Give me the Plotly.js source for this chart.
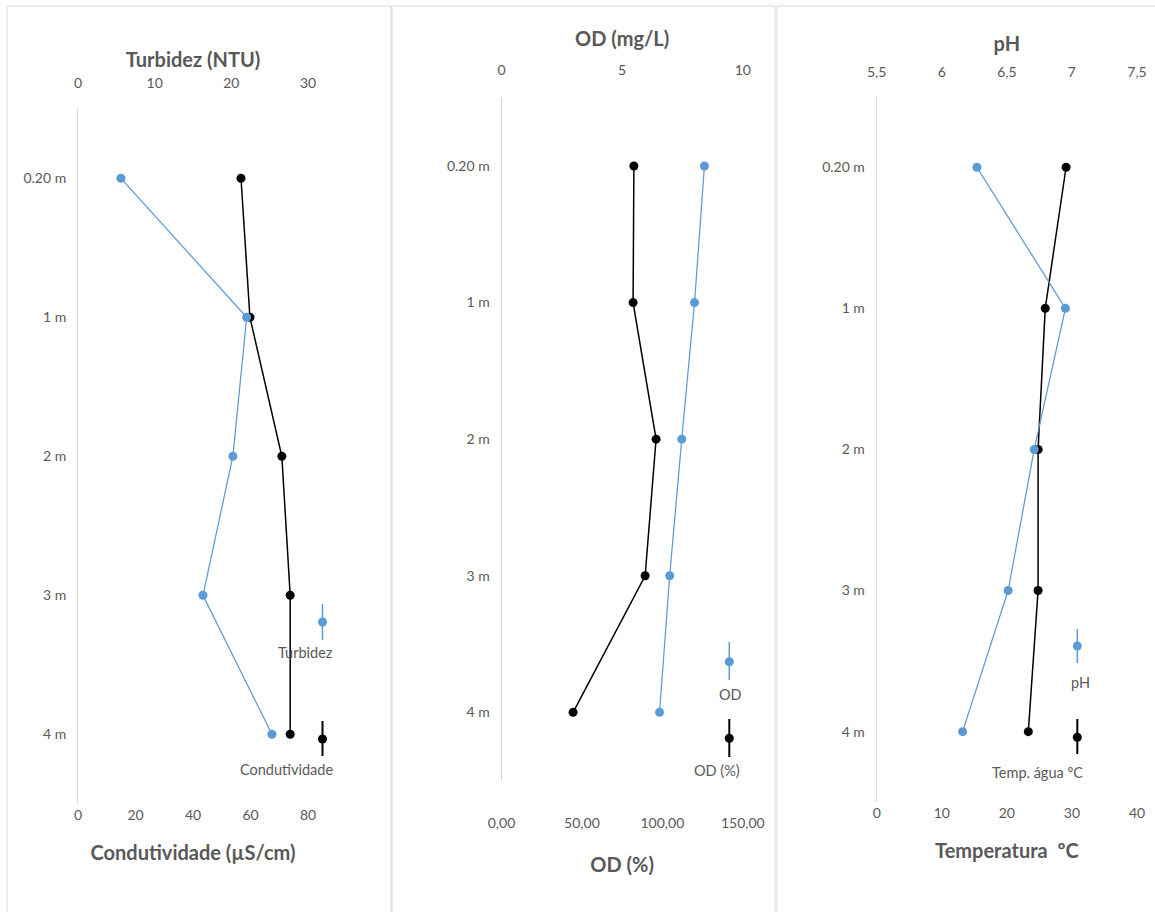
<!DOCTYPE html>
<html>
<head>
<meta charset="utf-8">
<script src="https://cdn.plot.ly/plotly-3.0.1.min.js"></script>
<style>
  html, body { margin: 0; padding: 0; background: #ffffff; }
  #chart { width: 1155px; height: 912px; }
</style>
</head>
<body>
<div id="chart"></div>
<script>
// Depth profiles of a water column: three side-by-side panels.
const depths = ["0.20 m", "1 m", "2 m", "3 m", "4 m"];

// Panel 1
const turbidez = [5.6, 22.0, 20.2, 16.3, 25.3];          // NTU (top axis)
const condutividade = [56.7, 59.8, 70.9, 73.8, 73.8];    // µS/cm (bottom axis)

// Panel 2
const odMgL = [8.41, 8.0, 7.47, 6.97, 6.55];             // mg/L (top axis)
const odPct = [82.3, 81.8, 96.1, 89.3, 44.5];            // % saturation (bottom axis)

// Panel 3
const ph = [6.27, 6.95, 6.71, 6.51, 6.16];               // pH (top axis)
const tempAgua = [29.1, 25.9, 24.8, 24.8, 23.3];         // ºC (bottom axis)

const W = 1155, H = 912;
const px = v => v / W;
const py = v => 1 - v / H;

const BLUE = "#5b9bd5";
const BLACK = "#000000";
const GREY = "#595959";
const FONT = "Lato, 'Open Sans', sans-serif";
const TICK_SIZE = 14;
const TITLE_SIZE = 20;

function series(x, xa, ya, color, name, width) {
  return {
    type: "scatter", mode: "lines+markers",
    x: x, y: depths, xaxis: xa, yaxis: ya, name: name,
    line: { color: color, width: width },
    marker: { color: color, size: 9 },
    showlegend: false,
    hovertemplate: name + ": %{x}<extra>%{y}</extra>"
  };
}

const data = [
  series(turbidez, "x2", "y", BLUE, "Turbidez", 1.25),
  series(condutividade, "x", "y", BLACK, "Condutividade", 1.5),
  series(odMgL, "x4", "y2", BLUE, "OD", 1.25),
  series(odPct, "x3", "y2", BLACK, "OD (%)", 1.5),
  series(ph, "x6", "y3", BLUE, "pH", 1.25),
  series(tempAgua, "x5", "y3", BLACK, "Temp. água ºC", 1.5)
];

// Plot-area geometry (pixels) for each panel
const panels = [
  { x0: 78,  x1: 308,  y0: 108.8, y1: 803.8 },
  { x0: 501.5, x1: 742.8, y0: 97.7,  y1: 780.6 },
  { x0: 876.7, x1: 1137, y0: 96.7,  y1: 802.2 }
];

function axisTitle(title, gap) {
  return { text: "<b>" + title + "</b>", font: { family: FONT, size: TITLE_SIZE, color: GREY }, standoff: gap };
}
function bottomAxis(p, range, dtick, title, posPx, standoff, titleGap, fmt) {
  return {
    domain: [px(p.x0), px(p.x1)], range: range, dtick: dtick, tick0: 0,
    anchor: "free", position: py(posPx), side: "bottom",
    showline: false, showgrid: false, zeroline: false, ticks: "",
    tickformat: fmt || "", ticklabelstandoff: standoff,
    tickfont: { family: FONT, size: TICK_SIZE, color: GREY },
    title: axisTitle(title, titleGap),
    fixedrange: true
  };
}
function topAxis(p, over, range, dtick, title, posPx, standoff, titleGap, fmt) {
  return {
    domain: [px(p.x0), px(p.x1)], range: range, dtick: dtick, tick0: range[0],
    overlaying: over, anchor: "free", position: py(posPx), side: "top",
    showline: false, showgrid: false, zeroline: false, ticks: "",
    tickformat: fmt || "", ticklabelstandoff: standoff,
    tickfont: { family: FONT, size: TICK_SIZE, color: GREY },
    title: axisTitle(title, titleGap),
    fixedrange: true
  };
}
function depthAxis(p, anchor) {
  return {
    domain: [py(p.y1), py(p.y0)], anchor: anchor,
    type: "category", categoryorder: "array", categoryarray: depths,
    range: [4.5, -0.5],
    showline: true, linecolor: "#d9d9d9", linewidth: 1,
    showgrid: false, zeroline: false, ticks: "", ticklabelstandoff: 8,
    tickfont: { family: FONT, size: TICK_SIZE, color: GREY },
    fixedrange: true
  };
}

// Legend glyphs: short vertical line with a marker, label underneath
const shapes = [];
const annotations = [];
function legendEntry(xc, yTop, yBot, yMark, color, label, lx, ly) {
  shapes.push({ type: "line", xref: "paper", yref: "paper",
    x0: px(xc), x1: px(xc), y0: py(yTop), y1: py(yBot),
    line: { color: color, width: color === BLACK ? 2 : 1.5 } });
  shapes.push({ type: "circle", xref: "paper", yref: "paper",
    x0: px(xc - 4.5), x1: px(xc + 4.5), y0: py(yMark - 4.5), y1: py(yMark + 4.5),
    fillcolor: color, line: { color: color, width: 0 } });
  annotations.push({ xref: "paper", yref: "paper", x: px(lx), y: py(ly),
    xanchor: "center", yanchor: "middle", showarrow: false, text: label,
    font: { family: FONT, size: 14.5, color: GREY } });
}
legendEntry(322.5, 604, 640, 622, BLUE, "Turbidez", 305, 652);
legendEntry(322.5, 721, 756, 739, BLACK, "Condutividade", 286, 769);
legendEntry(729.3, 642, 680, 661.7, BLUE, "OD", 730, 694);
legendEntry(729.3, 719, 757, 738.3, BLACK, "OD (%)", 717, 770);
legendEntry(1077.3, 629, 663, 646, BLUE, "pH", 1080, 682);
legendEntry(1077.3, 719, 754, 737.3, BLACK, "Temp. água ºC", 1037, 772);

// Panel frames
[[7, 391], [392, 775], [777, 1160]].forEach(([a, b]) => {
  shapes.push({ type: "rect", xref: "paper", yref: "paper", layer: "below",
    x0: px(a), x1: px(b), y0: py(6), y1: py(930),
    line: { color: "#d9d9d9", width: 1 }, fillcolor: "rgba(0,0,0,0)" });
});

const layout = {
  width: W, height: H,
  margin: { l: 0, r: 0, t: 0, b: 0, pad: 0 },
  paper_bgcolor: "#ffffff", plot_bgcolor: "rgba(0,0,0,0)",
  separators: ",.",
  showlegend: false,
  xaxis:  bottomAxis(panels[0], [0, 80], 20, "Condutividade (µS/cm)", 803.8, 1, 24),
  xaxis2: topAxis(panels[0], "x", [0, 30], 10, "Turbidez (NTU)", 108.8, 18, 0),
  xaxis3: bottomAxis(panels[1], [0, 150], 50, "OD (%)", 780.6, 32, 28, ".2f"),
  xaxis4: topAxis(panels[1], "x3", [0, 10], 5, "OD (mg/L)", 97.7, 20, 7),
  xaxis5: bottomAxis(panels[2], [0, 40], 10, "Temperatura  ºC", 802.2, 1, 23),
  xaxis6: topAxis(panels[2], "x5", [5.5, 7.5], 0.5, "pH", 96.7, 17, 4),
  yaxis:  depthAxis(panels[0], "x"),
  yaxis2: depthAxis(panels[1], "x3"),
  yaxis3: depthAxis(panels[2], "x5"),
  shapes: shapes,
  annotations: annotations
};

Plotly.newPlot("chart", data, layout, { displayModeBar: false, staticPlot: true });
</script>
</body>
</html>
